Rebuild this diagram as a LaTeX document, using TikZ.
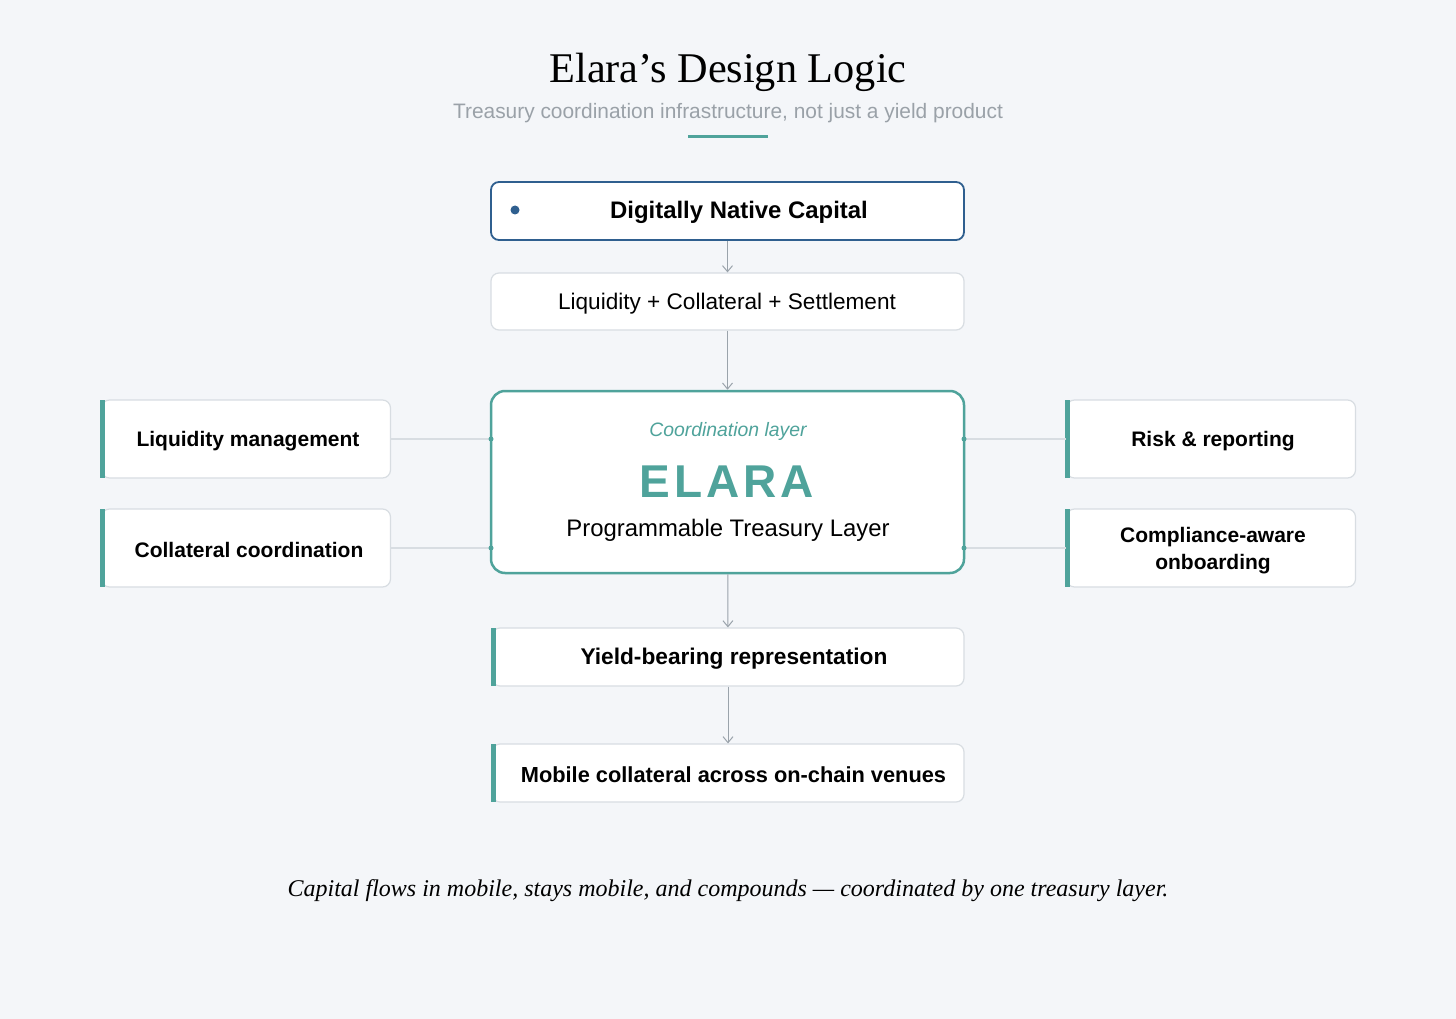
\documentclass[tikz,border=0pt]{standalone}
\usepackage{fontspec}
\setmainfont{Liberation Serif}
\setsansfont{Liberation Sans}
\usetikzlibrary{arrows.meta}
\definecolor{bg}{HTML}{F4F6F9}
\definecolor{teal}{HTML}{4FA39B}
\definecolor{navy}{HTML}{2F5F8F}
\definecolor{bord}{HTML}{D8DDE2}
\definecolor{subg}{HTML}{9AA1A8}
\definecolor{conn}{HTML}{9AA3AB}
\begin{document}
\begin{tikzpicture}[x=1pt,y=-1pt,
  box/.style={draw=bord,line width=1.2pt,fill=white,rounded corners=8pt,inner sep=0pt},
  txt/.style={font=\sffamily\fontsize{22.6}{26}\selectfont,align=center},
  bold/.style={font=\sffamily\bfseries\fontsize{21}{27}\selectfont,align=center},
  arr/.style={draw=conn,line width=1pt,-{Straight Barb[length=6pt,width=10pt]}},
  link/.style={draw=bord,line width=1.2pt}]
\useasboundingbox[fill=bg] (0,0) rectangle (1456,1019);
\node[font=\fontsize{42.3}{46}\selectfont] (title) at (728,72) {Elara’s Design Logic};
\node[font=\sffamily\fontsize{20.9}{24}\selectfont,text=subg] (sub) at (728,113) {Treasury coordination infrastructure, not just a yield product};
\draw[teal,line width=3pt] (688,137) -- (768,137);
% boxes
\node[box,draw=navy,line width=1.8pt,minimum width=473pt,minimum height=58pt] (dnc) at (727.5,211) {};
\node[font=\sffamily\bfseries\fontsize{23.9}{27}\selectfont] (dnct) at (739,212) {Digitally Native Capital};
\fill[navy] (515,210) circle (4.5pt);
\node[box,minimum width=473pt,minimum height=57pt] (lcs) at (727.5,301.5) {};
\node[txt] (lcst) at (727,303.5) {Liquidity + Collateral + Settlement};
\node[box,draw=teal,line width=2.5pt,minimum width=473pt,minimum height=182pt,rounded corners=14pt] (core) at (727.5,482) {};
\node[font=\sffamily\itshape\fontsize{19.4}{22}\selectfont,text=teal] (cl) at (728,431) {Coordination layer};
\node[font=\sffamily\bfseries\fontsize{46}{50}\selectfont,text=teal] (el) at (727,482) {E\kern4pt L\kern4pt A\kern4pt R\kern4pt A};
\node[font=\sffamily\fontsize{23.9}{26}\selectfont] (ptl) at (728,530) {Programmable Treasury Layer};
% side boxes
\node[box,minimum width=289pt,minimum height=78pt] (lm) at (246,439) {};
\node[bold] (lmt) at (248,441) {Liquidity management};
\node[box,minimum width=289pt,minimum height=78pt] (cc) at (246,548) {};
\node[bold] (cct) at (249,550) {Collateral coordination};
\node[box,minimum width=289pt,minimum height=78pt] (rr) at (1211,439) {};
\node[bold] (rrt) at (1213,441) {Risk \& reporting};
\node[box,minimum width=289pt,minimum height=78pt] (ca) at (1211,548) {};
\node[bold] (cat) at (1213,551) {Compliance-aware\\onboarding};
\node[box,minimum width=472pt,minimum height=58pt] (yb) at (728,657) {};
\node[bold,font=\sffamily\bfseries\fontsize{22.7}{27}\selectfont] (ybt) at (734,659) {Yield-bearing representation};
\node[box,minimum width=472pt,minimum height=58pt] (mc) at (728,773) {};
\node[bold,font=\sffamily\bfseries\fontsize{21.8}{27}\selectfont] (mct) at (733.5,775) {Mobile collateral across on-chain venues};
\fill[teal] (100,400) rectangle (105,478);
\fill[teal] (100,509) rectangle (105,587);
\fill[teal] (1065,400) rectangle (1070,478);
\fill[teal] (1065,509) rectangle (1070,587);
\fill[teal] (491,628) rectangle (496,686);
\fill[teal] (491,744) rectangle (496,802);
% connectors
\draw[arr] (dnc) -- (lcs);
\draw[arr] (lcs) -- (core);
\draw[arr] (core) -- (yb);
\draw[arr] (yb) -- (mc);
\coordinate (cl1) at (491,439); \coordinate (cl2) at (491,548);
\coordinate (cr1) at (964,439); \coordinate (cr2) at (964,548);
\draw[link] (lm.east) -- (cl1);
\draw[link] (cc.east) -- (cl2);
\draw[link] (rr.west) -- (cr1);
\draw[link] (ca.west) -- (cr2);
\foreach \c in {cl1,cl2,cr1,cr2} \fill[teal] (\c) circle (2.5pt);
\node[font=\itshape\fontsize{24}{28}\selectfont] (foot) at (728,891) {Capital flows in mobile, stays mobile, and compounds — coordinated by one treasury layer.};
\end{tikzpicture}
\end{document}
